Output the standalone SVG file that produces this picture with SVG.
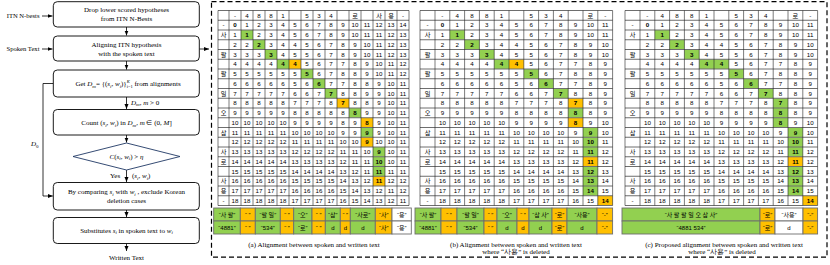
<svg xmlns="http://www.w3.org/2000/svg" width="830" height="265" viewBox="0 0 830 265">
<style>
.fb{fill:#fff;stroke:#000;stroke-width:0.9}
.ft{font-family:"Liberation Serif","Times New Roman",serif;font-size:7px;fill:#000;text-anchor:middle}
.fl{font-family:"Liberation Serif","Times New Roman",serif;font-size:7px;fill:#000}
.fe{font-family:"Liberation Serif","Times New Roman",serif;font-size:6.6px;fill:#000;text-anchor:end}
.fi{font-style:italic}
.cn{stroke:#000;stroke-width:0.8;fill:none}
.ct{font-family:"Liberation Sans","Noto Sans CJK KR",sans-serif;font-size:6.2px;text-anchor:middle;fill:#000}
.b{font-weight:bold}
.G{fill:#92d050}
.O{fill:#ffc000}
.W{fill:#fff}
.hg{stroke:#6e6e6e;stroke-width:1;fill:none}
.vg{stroke:#222;stroke-width:0.6;fill:none}
.bx{stroke:#6e6e6e;stroke-width:0.9}
.bt{font-family:"Liberation Sans","Noto Sans CJK KR",sans-serif;font-size:6px;text-anchor:middle;fill:#000}
</style>
<defs>
<marker id="ah" viewBox="0 0 10 10" refX="10" refY="5" markerWidth="5" markerHeight="5" markerUnits="userSpaceOnUse" orient="auto"><path d="M0,1 L10,5 L0,9 z" fill="#000"/></marker>
</defs>

<!-- Flowchart -->
<g id="connectors">
<path class="cn" d="M42 16H52.5" marker-end="url(#ah)"/>
<path class="cn" d="M42 49H52.5" marker-end="url(#ah)"/>
<path class="cn" d="M126.5 27V35.5" marker-end="url(#ah)"/>
<path class="cn" d="M199.3 49H209" marker-end="url(#ah)"/>
<path class="cn" d="M126.5 61V69.5" marker-end="url(#ah)"/>
<path class="cn" d="M126.5 97V109" marker-end="url(#ah)"/>
<path class="cn" d="M126.5 135V142.5" marker-end="url(#ah)"/>
<path class="cn" d="M126.5 170V182" marker-end="url(#ah)"/>
<path class="cn" d="M126.5 210V217" marker-end="url(#ah)"/>
<path class="cn" d="M126.5 243.5V251" marker-end="url(#ah)"/>
<path class="cn" d="M53.3 83.5H43V196H52.8" marker-end="url(#ah)"/>
<text class="fl" x="131" y="104.5"><tspan class="fi">D</tspan><tspan class="fi" font-size="5" dy="1.5">m</tspan><tspan dy="-1.5">, </tspan><tspan class="fi">m</tspan> &gt; 0</text>
<text class="fl" x="110" y="178">Yes</text>
<text class="fl" x="132" y="178">(<tspan class="fi">s</tspan><tspan class="fi" font-size="5" dy="1.5">i</tspan><tspan dy="-1.5">, </tspan><tspan class="fi">w</tspan><tspan class="fi" font-size="5" dy="1.5">i</tspan><tspan dy="-1.5">)</tspan></text>
<text class="fl" x="31" y="146"><tspan class="fi">D</tspan><tspan font-size="5" dy="1.5">0</tspan></text>
</g>
<g id="in-nbest"><text class="fe" x="39.5" y="18.3">ITN N-bests</text></g>
<g id="in-spoken"><text class="fe" x="39.5" y="51.3">Spoken Text</text></g>
<g id="n1"><rect class="fb" x="53.3" y="1.7" width="146" height="25.3" rx="4"/><text class="ft" x="126.5" y="12.3">Drop lower scored hypotheses</text><text class="ft" x="126.5" y="21">from ITN N-Bests</text></g>
<g id="n2"><rect class="fb" x="53.3" y="36" width="146" height="25" rx="4"/><text class="ft" x="126.5" y="47">Aligning ITN hypothesis</text><text class="ft" x="126.5" y="55.5">with the spoken text</text></g>
<g id="n3"><rect class="fb" x="53.3" y="70" width="146" height="27" rx="4"/><text class="ft" x="128" y="86">Get <tspan class="fi">D</tspan><tspan class="fi" font-size="5" dy="1.5">m</tspan><tspan dy="-1.5">= {(</tspan><tspan class="fi">s</tspan><tspan class="fi" font-size="5" dy="1.5">i</tspan><tspan dy="-1.5">, </tspan><tspan class="fi">w</tspan><tspan class="fi" font-size="5" dy="1.5">i</tspan><tspan dy="-1.5">)}</tspan><tspan font-size="4.5" dy="2">i=1</tspan><tspan class="fi" font-size="4.5" dx="-6" dy="-5.5">K</tspan><tspan dy="3.5" dx="3"> from alignments</tspan></text></g>
<g id="n4"><rect class="fb" x="53.3" y="109.5" width="146" height="25.5" rx="4"/><text class="ft" x="126.5" y="125">Count (<tspan class="fi">s</tspan><tspan class="fi" font-size="5" dy="1.5">i</tspan><tspan dy="-1.5">, </tspan><tspan class="fi">w</tspan><tspan class="fi" font-size="5" dy="1.5">i</tspan><tspan dy="-1.5">) in </tspan><tspan class="fi">D</tspan><tspan class="fi" font-size="5" dy="1.5">m</tspan><tspan dy="-1.5">, </tspan><tspan class="fi">m</tspan> ∈ (0, <tspan class="fi">M</tspan>]</text></g>
<g id="n5"><path d="M126.5 143L180 156.5L126.5 170L73 156.5Z" fill="#fff" stroke="#1f3864" stroke-width="0.9"/><text class="ft" x="126.5" y="158.5"><tspan class="fi">C</tspan>(<tspan class="fi">s</tspan><tspan class="fi" font-size="5" dy="1.5">i</tspan><tspan dy="-1.5">, </tspan><tspan class="fi">w</tspan><tspan class="fi" font-size="5" dy="1.5">i</tspan><tspan dy="-1.5">) &gt; </tspan><tspan class="fi">η</tspan></text></g>
<g id="n6"><rect class="fb" x="53.3" y="182.5" width="146" height="27.5" rx="4"/><text class="ft" x="126.5" y="194">By comparing <tspan class="fi">s</tspan><tspan class="fi" font-size="5" dy="1.5">i</tspan><tspan dy="-1.5"> with </tspan><tspan class="fi">w</tspan><tspan class="fi" font-size="5" dy="1.5">i</tspan><tspan dy="-1.5"> , exclude Korean</tspan></text><text class="ft" x="126.5" y="203">deletion cases</text></g>
<g id="n7"><rect class="fb" x="53.3" y="217.5" width="146" height="26" rx="4"/><text class="ft" x="126.5" y="232.5">Substitutes <tspan class="fi">s</tspan><tspan class="fi" font-size="5" dy="1.5">i</tspan><tspan dy="-1.5"> in spoken text to </tspan><tspan class="fi">w</tspan><tspan class="fi" font-size="5" dy="1.5">i</tspan></text></g>
<g id="out-written"><text class="ft" x="126.5" y="259.5">Written Text</text></g>

<!-- Dashed frame -->
<rect x="211.5" y="1.7" width="615.5" height="255.5" fill="none" stroke="#000" stroke-width="1.2" stroke-dasharray="5 3"/>

<!-- Table A -->
<g id="tableA">
<rect class="G" x="241" y="30" width="12" height="9.75"/>
<rect class="G" x="253" y="39.75" width="12" height="9.75"/>
<rect class="G" x="265" y="49.5" width="12" height="9.75"/>
<rect class="G" x="277" y="59.25" width="12" height="9.75"/>
<rect class="O" x="289" y="59.25" width="12" height="9.75"/>
<rect class="G" x="301" y="69" width="12" height="9.75"/>
<rect class="G" x="313" y="78.75" width="12" height="9.75"/>
<rect class="G" x="325" y="88.5" width="12" height="9.75"/>
<rect class="O" x="337" y="98.25" width="12" height="9.75"/>
<rect class="G" x="349" y="108" width="12" height="9.75"/>
<rect class="O" x="361" y="117.75" width="12" height="9.75"/>
<rect class="G" x="361" y="127.5" width="12" height="9.75"/>
<rect class="O" x="361" y="137.25" width="12" height="9.75"/>
<rect class="G" x="373" y="147" width="12" height="9.75"/>
<rect class="G" x="373" y="156.75" width="12" height="9.75"/>
<rect class="G" x="373" y="166.5" width="12" height="9.75"/>
<rect class="O" x="373" y="176.25" width="12" height="9.75"/>
<path class="hg" d="M218 10.5H409M218 20.25H409M218 30H409M218 39.75H409M218 49.5H409M218 59.25H409M218 69H409M218 78.75H409M218 88.5H409M218 98.25H409M218 108H409M218 117.75H409M218 127.5H409M218 137.25H409M218 147H409M218 156.75H409M218 166.5H409M218 176.25H409M218 186H409M218 195.75H409M218 205.5H409"/>
<path class="vg" d="M218 10.5V205.5M229 10.5V205.5M241 10.5V205.5M253 10.5V205.5M265 10.5V205.5M277 10.5V205.5M289 10.5V205.5M301 10.5V205.5M313 10.5V205.5M325 10.5V205.5M337 10.5V205.5M349 10.5V205.5M361 10.5V205.5M373 10.5V205.5M385 10.5V205.5M397 10.5V205.5M409 10.5V205.5"/>
<text class="ct" y="17.7"><tspan x="235">-</tspan><tspan x="247">4</tspan><tspan x="259">8</tspan><tspan x="271">8</tspan><tspan x="283">1</tspan><tspan x="307">5</tspan><tspan x="319">3</tspan><tspan x="331">4</tspan><tspan x="355">로</tspan><tspan x="379">사</tspan><tspan x="391">용</tspan><tspan x="403">-</tspan></text>
<text class="ct" y="27.45"><tspan x="223.5">-</tspan><tspan x="235" class="b">0</tspan><tspan x="247">1</tspan><tspan x="259">2</tspan><tspan x="271">3</tspan><tspan x="283">4</tspan><tspan x="295">5</tspan><tspan x="307">6</tspan><tspan x="319">7</tspan><tspan x="331">8</tspan><tspan x="343">9</tspan><tspan x="355">10</tspan><tspan x="367">11</tspan><tspan x="379">12</tspan><tspan x="391">13</tspan><tspan x="403">14</tspan></text>
<text class="ct" y="37.2"><tspan x="223.5">사</tspan><tspan x="235">1</tspan><tspan x="247" class="b">1</tspan><tspan x="259">2</tspan><tspan x="271">3</tspan><tspan x="283">4</tspan><tspan x="295">5</tspan><tspan x="307">6</tspan><tspan x="319">7</tspan><tspan x="331">8</tspan><tspan x="343">9</tspan><tspan x="355">10</tspan><tspan x="367">11</tspan><tspan x="379">11</tspan><tspan x="391">12</tspan><tspan x="403">13</tspan></text>
<text class="ct" y="46.95"><tspan x="235">2</tspan><tspan x="247">2</tspan><tspan x="259" class="b">2</tspan><tspan x="271">3</tspan><tspan x="283">4</tspan><tspan x="295">4</tspan><tspan x="307">5</tspan><tspan x="319">6</tspan><tspan x="331">7</tspan><tspan x="343">8</tspan><tspan x="355">9</tspan><tspan x="367">10</tspan><tspan x="379">11</tspan><tspan x="391">12</tspan><tspan x="403">13</tspan></text>
<text class="ct" y="56.7"><tspan x="223.5">팔</tspan><tspan x="235">3</tspan><tspan x="247">3</tspan><tspan x="259">3</tspan><tspan x="271" class="b">3</tspan><tspan x="283">4</tspan><tspan x="295">5</tspan><tspan x="307">5</tspan><tspan x="319">6</tspan><tspan x="331">7</tspan><tspan x="343">8</tspan><tspan x="355">9</tspan><tspan x="367">10</tspan><tspan x="379">11</tspan><tspan x="391">12</tspan><tspan x="403">13</tspan></text>
<text class="ct" y="66.45"><tspan x="235">4</tspan><tspan x="247">4</tspan><tspan x="259">4</tspan><tspan x="271">4</tspan><tspan x="283" class="b">4</tspan><tspan x="295" class="b">4</tspan><tspan x="307">5</tspan><tspan x="319">6</tspan><tspan x="331">7</tspan><tspan x="343">7</tspan><tspan x="355">8</tspan><tspan x="367">9</tspan><tspan x="379">10</tspan><tspan x="391">11</tspan><tspan x="403">12</tspan></text>
<text class="ct" y="76.2"><tspan x="223.5">팔</tspan><tspan x="235">5</tspan><tspan x="247">5</tspan><tspan x="259">5</tspan><tspan x="271">5</tspan><tspan x="283">5</tspan><tspan x="295">5</tspan><tspan x="307" class="b">5</tspan><tspan x="319">6</tspan><tspan x="331">7</tspan><tspan x="343">8</tspan><tspan x="355">8</tspan><tspan x="367">9</tspan><tspan x="379">10</tspan><tspan x="391">11</tspan><tspan x="403">12</tspan></text>
<text class="ct" y="85.95"><tspan x="235">6</tspan><tspan x="247">6</tspan><tspan x="259">6</tspan><tspan x="271">6</tspan><tspan x="283">6</tspan><tspan x="295">5</tspan><tspan x="307">6</tspan><tspan x="319" class="b">6</tspan><tspan x="331">7</tspan><tspan x="343">7</tspan><tspan x="355">8</tspan><tspan x="367">8</tspan><tspan x="379">9</tspan><tspan x="391">10</tspan><tspan x="403">11</tspan></text>
<text class="ct" y="95.7"><tspan x="223.5">일</tspan><tspan x="235">7</tspan><tspan x="247">7</tspan><tspan x="259">7</tspan><tspan x="271">7</tspan><tspan x="283">7</tspan><tspan x="295">6</tspan><tspan x="307">6</tspan><tspan x="319">7</tspan><tspan x="331" class="b">7</tspan><tspan x="343">8</tspan><tspan x="355">8</tspan><tspan x="367">9</tspan><tspan x="379">9</tspan><tspan x="391">10</tspan><tspan x="403">11</tspan></text>
<text class="ct" y="105.45"><tspan x="235">8</tspan><tspan x="247">8</tspan><tspan x="259">8</tspan><tspan x="271">8</tspan><tspan x="283">8</tspan><tspan x="295">7</tspan><tspan x="307">7</tspan><tspan x="319">7</tspan><tspan x="331">8</tspan><tspan x="343" class="b">7</tspan><tspan x="355">8</tspan><tspan x="367">8</tspan><tspan x="379">9</tspan><tspan x="391">10</tspan><tspan x="403">11</tspan></text>
<text class="ct" y="115.2"><tspan x="223.5">오</tspan><tspan x="235">9</tspan><tspan x="247">9</tspan><tspan x="259">9</tspan><tspan x="271">9</tspan><tspan x="283">9</tspan><tspan x="295">8</tspan><tspan x="307">8</tspan><tspan x="319">8</tspan><tspan x="331">8</tspan><tspan x="343">8</tspan><tspan x="355" class="b">8</tspan><tspan x="367">9</tspan><tspan x="379">9</tspan><tspan x="391">10</tspan><tspan x="403">11</tspan></text>
<text class="ct" y="124.95"><tspan x="235">10</tspan><tspan x="247">10</tspan><tspan x="259">10</tspan><tspan x="271">10</tspan><tspan x="283">10</tspan><tspan x="295">9</tspan><tspan x="307">9</tspan><tspan x="319">9</tspan><tspan x="331">9</tspan><tspan x="343">8</tspan><tspan x="355">9</tspan><tspan x="367" class="b">8</tspan><tspan x="379">9</tspan><tspan x="391">10</tspan><tspan x="403">11</tspan></text>
<text class="ct" y="134.7"><tspan x="223.5">삼</tspan><tspan x="235">11</tspan><tspan x="247">11</tspan><tspan x="259">11</tspan><tspan x="271">11</tspan><tspan x="283">11</tspan><tspan x="295">10</tspan><tspan x="307">10</tspan><tspan x="319">10</tspan><tspan x="331">10</tspan><tspan x="343">9</tspan><tspan x="355">9</tspan><tspan x="367" class="b">9</tspan><tspan x="379">9</tspan><tspan x="391">10</tspan><tspan x="403">11</tspan></text>
<text class="ct" y="144.45"><tspan x="235">12</tspan><tspan x="247">12</tspan><tspan x="259">12</tspan><tspan x="271">12</tspan><tspan x="283">12</tspan><tspan x="295">11</tspan><tspan x="307">11</tspan><tspan x="319">11</tspan><tspan x="331">11</tspan><tspan x="343">10</tspan><tspan x="355">10</tspan><tspan x="367" class="b">9</tspan><tspan x="379">10</tspan><tspan x="391">10</tspan><tspan x="403">11</tspan></text>
<text class="ct" y="154.2"><tspan x="223.5">사</tspan><tspan x="235">13</tspan><tspan x="247">13</tspan><tspan x="259">13</tspan><tspan x="271">13</tspan><tspan x="283">13</tspan><tspan x="295">12</tspan><tspan x="307">12</tspan><tspan x="319">12</tspan><tspan x="331">12</tspan><tspan x="343">11</tspan><tspan x="355">11</tspan><tspan x="367">10</tspan><tspan x="379" class="b">9</tspan><tspan x="391">10</tspan><tspan x="403">11</tspan></text>
<text class="ct" y="163.95"><tspan x="223.5">로</tspan><tspan x="235">14</tspan><tspan x="247">14</tspan><tspan x="259">14</tspan><tspan x="271">14</tspan><tspan x="283">14</tspan><tspan x="295">13</tspan><tspan x="307">13</tspan><tspan x="319">13</tspan><tspan x="331">13</tspan><tspan x="343">12</tspan><tspan x="355">11</tspan><tspan x="367">11</tspan><tspan x="379" class="b">10</tspan><tspan x="391">10</tspan><tspan x="403">11</tspan></text>
<text class="ct" y="173.7"><tspan x="235">15</tspan><tspan x="247">15</tspan><tspan x="259">15</tspan><tspan x="271">15</tspan><tspan x="283">15</tspan><tspan x="295">14</tspan><tspan x="307">14</tspan><tspan x="319">14</tspan><tspan x="331">14</tspan><tspan x="343">13</tspan><tspan x="355">12</tspan><tspan x="367">11</tspan><tspan x="379" class="b">11</tspan><tspan x="391">11</tspan><tspan x="403">11</tspan></text>
<text class="ct" y="183.45"><tspan x="223.5">사</tspan><tspan x="235">16</tspan><tspan x="247">16</tspan><tspan x="259">16</tspan><tspan x="271">16</tspan><tspan x="283">16</tspan><tspan x="295">15</tspan><tspan x="307">15</tspan><tspan x="319">15</tspan><tspan x="331">15</tspan><tspan x="343">14</tspan><tspan x="355">13</tspan><tspan x="367">12</tspan><tspan x="379" class="b">11</tspan><tspan x="391">12</tspan><tspan x="403">12</tspan></text>
<text class="ct" y="193.2"><tspan x="223.5">용</tspan><tspan x="235">17</tspan><tspan x="247">17</tspan><tspan x="259">17</tspan><tspan x="271">17</tspan><tspan x="283">17</tspan><tspan x="295">16</tspan><tspan x="307">16</tspan><tspan x="319">16</tspan><tspan x="331">16</tspan><tspan x="343">15</tspan><tspan x="355">14</tspan><tspan x="367">13</tspan><tspan x="379">12</tspan><tspan x="391">11</tspan><tspan x="403">12</tspan></text>
<text class="ct" y="202.95"><tspan x="223.5">-</tspan><tspan x="235">18</tspan><tspan x="247">18</tspan><tspan x="259">18</tspan><tspan x="271">18</tspan><tspan x="283">18</tspan><tspan x="295">17</tspan><tspan x="307">17</tspan><tspan x="319">17</tspan><tspan x="331">17</tspan><tspan x="343">16</tspan><tspan x="355">15</tspan><tspan x="367">14</tspan><tspan x="379">13</tspan><tspan x="391">12</tspan><tspan x="403">11</tspan></text>
</g>
<g id="alignA">
<rect class="G bx" x="213.7" y="208" width="26.6" height="13"/><rect class="O bx" x="240.3" y="208" width="15" height="13"/><rect class="G bx" x="255.3" y="208" width="25" height="13"/><rect class="O bx" x="280.3" y="208" width="13.4" height="13"/><rect class="G bx" x="293.7" y="208" width="18.3" height="13"/><rect class="O bx" x="312" y="208" width="13.3" height="13"/><rect class="G bx" x="325.3" y="208" width="15" height="13"/><rect class="O bx" x="340.3" y="208" width="10" height="13"/><rect class="G bx" x="350.3" y="208" width="25" height="13"/><rect class="O bx" x="375.3" y="208" width="16.7" height="13"/><rect class="W bx" x="392" y="208" width="19.3" height="13"/>
<rect class="G bx" x="213.7" y="221" width="26.6" height="13"/><rect class="O bx" x="240.3" y="221" width="15" height="13"/><rect class="G bx" x="255.3" y="221" width="25" height="13"/><rect class="O bx" x="280.3" y="221" width="13.4" height="13"/><rect class="G bx" x="293.7" y="221" width="18.3" height="13"/><rect class="O bx" x="312" y="221" width="13.3" height="13"/><rect class="G bx" x="325.3" y="221" width="15" height="13"/><rect class="O bx" x="340.3" y="221" width="10" height="13"/><rect class="G bx" x="350.3" y="221" width="25" height="13"/><rect class="O bx" x="375.3" y="221" width="16.7" height="13"/><rect class="W bx" x="392" y="221" width="19.3" height="13"/>
<text class="bt" y="216.8"><tspan x="227">“사 팔”</tspan><tspan x="247.8">“ ”</tspan><tspan x="267.8">“팔 일”</tspan><tspan x="287">“ ”</tspan><tspan x="302.8">“오”</tspan><tspan x="318.7">“ ”</tspan><tspan x="332.8">“삼”</tspan><tspan x="345.3">“ ”</tspan><tspan x="362.8">“사로”</tspan><tspan x="383.7">“사”</tspan><tspan x="401.7">“용”</tspan></text>
<text class="bt" y="229.8"><tspan x="227">“4881”</tspan><tspan x="247.8">“ ”</tspan><tspan x="267.8">“534”</tspan><tspan x="287">“ ”</tspan><tspan x="302.8">“로”</tspan><tspan x="318.7">“ ”</tspan><tspan x="332.8">d</tspan><tspan x="345.3">d</tspan><tspan x="362.8">d</tspan><tspan x="383.7">“사”</tspan><tspan x="401.7">“용”</tspan></text>
<text class="ft" x="314" y="247">(a) Alignment between spoken and written text</text>
</g>

<!-- Table B -->
<g id="tableB">
<rect class="G" x="449.8" y="30" width="14.8" height="9.75"/>
<rect class="G" x="464.6" y="39.75" width="14.8" height="9.75"/>
<rect class="G" x="479.4" y="49.5" width="14.8" height="9.75"/>
<rect class="G" x="494.2" y="59.25" width="14.8" height="9.75"/>
<rect class="O" x="509" y="59.25" width="14.8" height="9.75"/>
<rect class="G" x="523.8" y="69" width="14.8" height="9.75"/>
<rect class="G" x="538.6" y="78.75" width="14.8" height="9.75"/>
<rect class="G" x="553.4" y="88.5" width="14.8" height="9.75"/>
<rect class="O" x="568.2" y="98.25" width="14.8" height="9.75"/>
<rect class="G" x="568.2" y="108" width="14.8" height="9.75"/>
<rect class="O" x="568.2" y="117.75" width="14.8" height="9.75"/>
<rect class="G" x="583" y="127.5" width="14.8" height="9.75"/>
<rect class="G" x="583" y="137.25" width="14.8" height="9.75"/>
<rect class="G" x="583" y="147" width="14.8" height="9.75"/>
<rect class="O" x="583" y="156.75" width="14.8" height="9.75"/>
<rect class="G" x="583" y="166.5" width="14.8" height="9.75"/>
<rect class="G" x="583" y="176.25" width="14.8" height="9.75"/>
<rect class="G" x="583" y="186" width="14.8" height="9.75"/>
<rect class="O" x="597.8" y="195.75" width="14.8" height="9.75"/>
<g id="gridB">
<path class="hg" d="M420 10.5H612.6M420 20.25H612.6M420 30H612.6M420 39.75H612.6M420 49.5H612.6M420 59.25H612.6M420 69H612.6M420 78.75H612.6M420 88.5H612.6M420 98.25H612.6M420 108H612.6M420 117.75H612.6M420 127.5H612.6M420 137.25H612.6M420 147H612.6M420 156.75H612.6M420 166.5H612.6M420 176.25H612.6M420 186H612.6M420 195.75H612.6M420 205.5H612.6"/>
<path class="vg" d="M420 10.5V205.5M435 10.5V205.5M449.8 10.5V205.5M464.6 10.5V205.5M479.4 10.5V205.5M494.2 10.5V205.5M509 10.5V205.5M523.8 10.5V205.5M538.6 10.5V205.5M553.4 10.5V205.5M568.2 10.5V205.5M583 10.5V205.5M597.8 10.5V205.5M612.6 10.5V205.5"/>
<text class="ct" y="17.7"><tspan x="442.4">-</tspan><tspan x="457.2">4</tspan><tspan x="472">8</tspan><tspan x="486.8">8</tspan><tspan x="501.6">1</tspan><tspan x="531.2">5</tspan><tspan x="546">3</tspan><tspan x="560.8">4</tspan><tspan x="590.4">로</tspan><tspan x="605.2">-</tspan></text>
<text class="ct" y="27.45"><tspan x="427.5">-</tspan><tspan x="442.4" class="b">0</tspan><tspan x="457.2">1</tspan><tspan x="472">2</tspan><tspan x="486.8">3</tspan><tspan x="501.6">4</tspan><tspan x="516.4">5</tspan><tspan x="531.2">6</tspan><tspan x="546">7</tspan><tspan x="560.8">8</tspan><tspan x="575.6">9</tspan><tspan x="590.4">10</tspan><tspan x="605.2">11</tspan></text>
<text class="ct" y="37.2"><tspan x="427.5">사</tspan><tspan x="442.4">1</tspan><tspan x="457.2" class="b">1</tspan><tspan x="472">2</tspan><tspan x="486.8">3</tspan><tspan x="501.6">4</tspan><tspan x="516.4">5</tspan><tspan x="531.2">6</tspan><tspan x="546">7</tspan><tspan x="560.8">8</tspan><tspan x="575.6">9</tspan><tspan x="590.4">10</tspan><tspan x="605.2">11</tspan></text>
<text class="ct" y="46.95"><tspan x="442.4">2</tspan><tspan x="457.2">2</tspan><tspan x="472" class="b">2</tspan><tspan x="486.8">3</tspan><tspan x="501.6">4</tspan><tspan x="516.4">4</tspan><tspan x="531.2">5</tspan><tspan x="546">6</tspan><tspan x="560.8">7</tspan><tspan x="575.6">8</tspan><tspan x="590.4">9</tspan><tspan x="605.2">10</tspan></text>
<text class="ct" y="56.7"><tspan x="427.5">팔</tspan><tspan x="442.4">3</tspan><tspan x="457.2">3</tspan><tspan x="472">3</tspan><tspan x="486.8" class="b">3</tspan><tspan x="501.6">4</tspan><tspan x="516.4">5</tspan><tspan x="531.2">5</tspan><tspan x="546">6</tspan><tspan x="560.8">7</tspan><tspan x="575.6">8</tspan><tspan x="590.4">9</tspan><tspan x="605.2">10</tspan></text>
<text class="ct" y="66.45"><tspan x="442.4">4</tspan><tspan x="457.2">4</tspan><tspan x="472">4</tspan><tspan x="486.8">4</tspan><tspan x="501.6" class="b">4</tspan><tspan x="516.4" class="b">4</tspan><tspan x="531.2">5</tspan><tspan x="546">6</tspan><tspan x="560.8">7</tspan><tspan x="575.6">7</tspan><tspan x="590.4">8</tspan><tspan x="605.2">9</tspan></text>
<text class="ct" y="76.2"><tspan x="427.5">팔</tspan><tspan x="442.4">5</tspan><tspan x="457.2">5</tspan><tspan x="472">5</tspan><tspan x="486.8">5</tspan><tspan x="501.6">5</tspan><tspan x="516.4">5</tspan><tspan x="531.2" class="b">5</tspan><tspan x="546">6</tspan><tspan x="560.8">7</tspan><tspan x="575.6">8</tspan><tspan x="590.4">8</tspan><tspan x="605.2">9</tspan></text>
<text class="ct" y="85.95"><tspan x="442.4">6</tspan><tspan x="457.2">6</tspan><tspan x="472">6</tspan><tspan x="486.8">6</tspan><tspan x="501.6">6</tspan><tspan x="516.4">5</tspan><tspan x="531.2">6</tspan><tspan x="546" class="b">6</tspan><tspan x="560.8">7</tspan><tspan x="575.6">7</tspan><tspan x="590.4">8</tspan><tspan x="605.2">9</tspan></text>
<text class="ct" y="95.7"><tspan x="427.5">일</tspan><tspan x="442.4">7</tspan><tspan x="457.2">7</tspan><tspan x="472">7</tspan><tspan x="486.8">7</tspan><tspan x="501.6">7</tspan><tspan x="516.4">6</tspan><tspan x="531.2">6</tspan><tspan x="546">7</tspan><tspan x="560.8" class="b">7</tspan><tspan x="575.6">8</tspan><tspan x="590.4">8</tspan><tspan x="605.2">9</tspan></text>
<text class="ct" y="105.45"><tspan x="442.4">8</tspan><tspan x="457.2">8</tspan><tspan x="472">8</tspan><tspan x="486.8">8</tspan><tspan x="501.6">8</tspan><tspan x="516.4">7</tspan><tspan x="531.2">7</tspan><tspan x="546">7</tspan><tspan x="560.8">8</tspan><tspan x="575.6" class="b">7</tspan><tspan x="590.4">8</tspan><tspan x="605.2">9</tspan></text>
<text class="ct" y="115.2"><tspan x="427.5">오</tspan><tspan x="442.4">9</tspan><tspan x="457.2">9</tspan><tspan x="472">9</tspan><tspan x="486.8">9</tspan><tspan x="501.6">9</tspan><tspan x="516.4">8</tspan><tspan x="531.2">8</tspan><tspan x="546">8</tspan><tspan x="560.8">8</tspan><tspan x="575.6" class="b">8</tspan><tspan x="590.4">8</tspan><tspan x="605.2">9</tspan></text>
<text class="ct" y="124.95"><tspan x="442.4">10</tspan><tspan x="457.2">10</tspan><tspan x="472">10</tspan><tspan x="486.8">10</tspan><tspan x="501.6">10</tspan><tspan x="516.4">9</tspan><tspan x="531.2">9</tspan><tspan x="546">9</tspan><tspan x="560.8">9</tspan><tspan x="575.6" class="b">8</tspan><tspan x="590.4">9</tspan><tspan x="605.2">10</tspan></text>
<text class="ct" y="134.7"><tspan x="427.5">삼</tspan><tspan x="442.4">11</tspan><tspan x="457.2">11</tspan><tspan x="472">11</tspan><tspan x="486.8">11</tspan><tspan x="501.6">11</tspan><tspan x="516.4">10</tspan><tspan x="531.2">10</tspan><tspan x="546">10</tspan><tspan x="560.8">10</tspan><tspan x="575.6">9</tspan><tspan x="590.4" class="b">9</tspan><tspan x="605.2">10</tspan></text>
<text class="ct" y="144.45"><tspan x="442.4">12</tspan><tspan x="457.2">12</tspan><tspan x="472">12</tspan><tspan x="486.8">12</tspan><tspan x="501.6">12</tspan><tspan x="516.4">11</tspan><tspan x="531.2">11</tspan><tspan x="546">11</tspan><tspan x="560.8">11</tspan><tspan x="575.6">10</tspan><tspan x="590.4" class="b">10</tspan><tspan x="605.2">11</tspan></text>
<text class="ct" y="154.2"><tspan x="427.5">사</tspan><tspan x="442.4">13</tspan><tspan x="457.2">13</tspan><tspan x="472">13</tspan><tspan x="486.8">13</tspan><tspan x="501.6">13</tspan><tspan x="516.4">12</tspan><tspan x="531.2">12</tspan><tspan x="546">12</tspan><tspan x="560.8">12</tspan><tspan x="575.6">11</tspan><tspan x="590.4" class="b">11</tspan><tspan x="605.2">12</tspan></text>
<text class="ct" y="163.95"><tspan x="427.5">로</tspan><tspan x="442.4">14</tspan><tspan x="457.2">14</tspan><tspan x="472">14</tspan><tspan x="486.8">14</tspan><tspan x="501.6">14</tspan><tspan x="516.4">13</tspan><tspan x="531.2">13</tspan><tspan x="546">13</tspan><tspan x="560.8">13</tspan><tspan x="575.6">12</tspan><tspan x="590.4" class="b">11</tspan><tspan x="605.2">12</tspan></text>
<text class="ct" y="173.7"><tspan x="442.4">15</tspan><tspan x="457.2">15</tspan><tspan x="472">15</tspan><tspan x="486.8">15</tspan><tspan x="501.6">15</tspan><tspan x="516.4">14</tspan><tspan x="531.2">14</tspan><tspan x="546">14</tspan><tspan x="560.8">14</tspan><tspan x="575.6">13</tspan><tspan x="590.4" class="b">12</tspan><tspan x="605.2">13</tspan></text>
<text class="ct" y="183.45"><tspan x="427.5">사</tspan><tspan x="442.4">16</tspan><tspan x="457.2">16</tspan><tspan x="472">16</tspan><tspan x="486.8">16</tspan><tspan x="501.6">16</tspan><tspan x="516.4">15</tspan><tspan x="531.2">15</tspan><tspan x="546">15</tspan><tspan x="560.8">15</tspan><tspan x="575.6">14</tspan><tspan x="590.4" class="b">13</tspan><tspan x="605.2">14</tspan></text>
<text class="ct" y="193.2"><tspan x="427.5">용</tspan><tspan x="442.4">17</tspan><tspan x="457.2">17</tspan><tspan x="472">17</tspan><tspan x="486.8">17</tspan><tspan x="501.6">17</tspan><tspan x="516.4">16</tspan><tspan x="531.2">16</tspan><tspan x="546">16</tspan><tspan x="560.8">16</tspan><tspan x="575.6">15</tspan><tspan x="590.4" class="b">14</tspan><tspan x="605.2">15</tspan></text>
<text class="ct" y="202.95"><tspan x="427.5">-</tspan><tspan x="442.4">18</tspan><tspan x="457.2">18</tspan><tspan x="472">18</tspan><tspan x="486.8">18</tspan><tspan x="501.6">18</tspan><tspan x="516.4">17</tspan><tspan x="531.2">17</tspan><tspan x="546">17</tspan><tspan x="560.8">17</tspan><tspan x="575.6">16</tspan><tspan x="590.4">15</tspan><tspan x="605.2" class="b">14</tspan></text>
</g>
</g>
<g id="alignB">
<rect class="G bx" x="415" y="208" width="26" height="13"/><rect class="O bx" x="441" y="208" width="16" height="13"/><rect class="G bx" x="457" y="208" width="27" height="13"/><rect class="O bx" x="484" y="208" width="13" height="13"/><rect class="G bx" x="497" y="208" width="20" height="13"/><rect class="O bx" x="517" y="208" width="12" height="13"/><rect class="G bx" x="529" y="208" width="23" height="13"/><rect class="O bx" x="552" y="208" width="15" height="13"/><rect class="G bx" x="567" y="208" width="30" height="13"/><rect class="O bx" x="597" y="208" width="15.6" height="13"/>
<rect class="G bx" x="415" y="221" width="26" height="13"/><rect class="O bx" x="441" y="221" width="16" height="13"/><rect class="G bx" x="457" y="221" width="27" height="13"/><rect class="O bx" x="484" y="221" width="13" height="13"/><rect class="G bx" x="497" y="221" width="20" height="13"/><rect class="O bx" x="517" y="221" width="12" height="13"/><rect class="G bx" x="529" y="221" width="23" height="13"/><rect class="O bx" x="552" y="221" width="15" height="13"/><rect class="G bx" x="567" y="221" width="30" height="13"/><rect class="O bx" x="597" y="221" width="15.6" height="13"/>
<text class="bt" y="216.8"><tspan x="428">“사 팔”</tspan><tspan x="449">“ ”</tspan><tspan x="470.5">“팔 일”</tspan><tspan x="490.5">“ ”</tspan><tspan x="507">“오”</tspan><tspan x="523">“ ”</tspan><tspan x="540.5">“삼 사”</tspan><tspan x="559.5">“로”</tspan><tspan x="582">“사용”</tspan><tspan x="604.8">“-”</tspan></text>
<text class="bt" y="229.8"><tspan x="428">“4881”</tspan><tspan x="449">“ ”</tspan><tspan x="470.5">“534”</tspan><tspan x="490.5">“ ”</tspan><tspan x="507">d</tspan><tspan x="523">d</tspan><tspan x="540.5">d</tspan><tspan x="559.5">“로”</tspan><tspan x="582">d</tspan><tspan x="604.8">“-”</tspan></text>
<text class="ft" x="516" y="246.5">(b) Alignment between spoken and written text</text>
<text class="ft" x="516" y="254">where “사용” is deleted</text>
</g>

<!-- Table C -->
<g id="tableC">
<rect class="G" x="654.8" y="30" width="14.8" height="9.75"/>
<rect class="G" x="669.6" y="39.75" width="14.8" height="9.75"/>
<rect class="G" x="684.4" y="49.5" width="14.8" height="9.75"/>
<rect class="G" x="699.2" y="59.25" width="14.8" height="9.75"/>
<rect class="G" x="714" y="59.25" width="14.8" height="9.75"/>
<rect class="G" x="728.8" y="69" width="14.8" height="9.75"/>
<rect class="G" x="743.6" y="78.75" width="14.8" height="9.75"/>
<rect class="G" x="758.4" y="88.5" width="14.8" height="9.75"/>
<rect class="G" x="773.2" y="98.25" width="14.8" height="9.75"/>
<rect class="G" x="773.2" y="108" width="14.8" height="9.75"/>
<rect class="G" x="773.2" y="117.75" width="14.8" height="9.75"/>
<rect class="G" x="788" y="127.5" width="14.8" height="9.75"/>
<rect class="G" x="788" y="137.25" width="14.8" height="9.75"/>
<rect class="G" x="788" y="147" width="14.8" height="9.75"/>
<rect class="O" x="788" y="156.75" width="14.8" height="9.75"/>
<rect class="G" x="788" y="166.5" width="14.8" height="9.75"/>
<rect class="G" x="788" y="176.25" width="14.8" height="9.75"/>
<rect class="G" x="788" y="186" width="14.8" height="9.75"/>
<rect class="O" x="802.8" y="195.75" width="14.8" height="9.75"/>
<g transform="translate(205 0)">
<path class="hg" d="M420 10.5H612.6M420 20.25H612.6M420 30H612.6M420 39.75H612.6M420 49.5H612.6M420 59.25H612.6M420 69H612.6M420 78.75H612.6M420 88.5H612.6M420 98.25H612.6M420 108H612.6M420 117.75H612.6M420 127.5H612.6M420 137.25H612.6M420 147H612.6M420 156.75H612.6M420 166.5H612.6M420 176.25H612.6M420 186H612.6M420 195.75H612.6M420 205.5H612.6"/>
<path class="vg" d="M420 10.5V205.5M435 10.5V205.5M449.8 10.5V205.5M464.6 10.5V205.5M479.4 10.5V205.5M494.2 10.5V205.5M509 10.5V205.5M523.8 10.5V205.5M538.6 10.5V205.5M553.4 10.5V205.5M568.2 10.5V205.5M583 10.5V205.5M597.8 10.5V205.5M612.6 10.5V205.5"/>
<text class="ct" y="17.7"><tspan x="442.4">-</tspan><tspan x="457.2">4</tspan><tspan x="472">8</tspan><tspan x="486.8">8</tspan><tspan x="501.6">1</tspan><tspan x="531.2">5</tspan><tspan x="546">3</tspan><tspan x="560.8">4</tspan><tspan x="590.4">로</tspan><tspan x="605.2">-</tspan></text>
<text class="ct" y="27.45"><tspan x="427.5">-</tspan><tspan x="442.4" class="b">0</tspan><tspan x="457.2">1</tspan><tspan x="472">2</tspan><tspan x="486.8">3</tspan><tspan x="501.6">4</tspan><tspan x="516.4">5</tspan><tspan x="531.2">6</tspan><tspan x="546">7</tspan><tspan x="560.8">8</tspan><tspan x="575.6">9</tspan><tspan x="590.4">10</tspan><tspan x="605.2">11</tspan></text>
<text class="ct" y="37.2"><tspan x="427.5">사</tspan><tspan x="442.4">1</tspan><tspan x="457.2" class="b">1</tspan><tspan x="472">2</tspan><tspan x="486.8">3</tspan><tspan x="501.6">4</tspan><tspan x="516.4">5</tspan><tspan x="531.2">6</tspan><tspan x="546">7</tspan><tspan x="560.8">8</tspan><tspan x="575.6">9</tspan><tspan x="590.4">10</tspan><tspan x="605.2">11</tspan></text>
<text class="ct" y="46.95"><tspan x="442.4">2</tspan><tspan x="457.2">2</tspan><tspan x="472" class="b">2</tspan><tspan x="486.8">3</tspan><tspan x="501.6">4</tspan><tspan x="516.4">4</tspan><tspan x="531.2">5</tspan><tspan x="546">6</tspan><tspan x="560.8">7</tspan><tspan x="575.6">8</tspan><tspan x="590.4">9</tspan><tspan x="605.2">10</tspan></text>
<text class="ct" y="56.7"><tspan x="427.5">팔</tspan><tspan x="442.4">3</tspan><tspan x="457.2">3</tspan><tspan x="472">3</tspan><tspan x="486.8" class="b">3</tspan><tspan x="501.6">4</tspan><tspan x="516.4">5</tspan><tspan x="531.2">5</tspan><tspan x="546">6</tspan><tspan x="560.8">7</tspan><tspan x="575.6">8</tspan><tspan x="590.4">9</tspan><tspan x="605.2">10</tspan></text>
<text class="ct" y="66.45"><tspan x="442.4">4</tspan><tspan x="457.2">4</tspan><tspan x="472">4</tspan><tspan x="486.8">4</tspan><tspan x="501.6" class="b">4</tspan><tspan x="516.4" class="b">4</tspan><tspan x="531.2">5</tspan><tspan x="546">6</tspan><tspan x="560.8">7</tspan><tspan x="575.6">7</tspan><tspan x="590.4">8</tspan><tspan x="605.2">9</tspan></text>
<text class="ct" y="76.2"><tspan x="427.5">팔</tspan><tspan x="442.4">5</tspan><tspan x="457.2">5</tspan><tspan x="472">5</tspan><tspan x="486.8">5</tspan><tspan x="501.6">5</tspan><tspan x="516.4">5</tspan><tspan x="531.2" class="b">5</tspan><tspan x="546">6</tspan><tspan x="560.8">7</tspan><tspan x="575.6">8</tspan><tspan x="590.4">8</tspan><tspan x="605.2">9</tspan></text>
<text class="ct" y="85.95"><tspan x="442.4">6</tspan><tspan x="457.2">6</tspan><tspan x="472">6</tspan><tspan x="486.8">6</tspan><tspan x="501.6">6</tspan><tspan x="516.4">5</tspan><tspan x="531.2">6</tspan><tspan x="546" class="b">6</tspan><tspan x="560.8">7</tspan><tspan x="575.6">7</tspan><tspan x="590.4">8</tspan><tspan x="605.2">9</tspan></text>
<text class="ct" y="95.7"><tspan x="427.5">일</tspan><tspan x="442.4">7</tspan><tspan x="457.2">7</tspan><tspan x="472">7</tspan><tspan x="486.8">7</tspan><tspan x="501.6">7</tspan><tspan x="516.4">6</tspan><tspan x="531.2">6</tspan><tspan x="546">7</tspan><tspan x="560.8" class="b">7</tspan><tspan x="575.6">8</tspan><tspan x="590.4">8</tspan><tspan x="605.2">9</tspan></text>
<text class="ct" y="105.45"><tspan x="442.4">8</tspan><tspan x="457.2">8</tspan><tspan x="472">8</tspan><tspan x="486.8">8</tspan><tspan x="501.6">8</tspan><tspan x="516.4">7</tspan><tspan x="531.2">7</tspan><tspan x="546">7</tspan><tspan x="560.8">8</tspan><tspan x="575.6" class="b">7</tspan><tspan x="590.4">8</tspan><tspan x="605.2">9</tspan></text>
<text class="ct" y="115.2"><tspan x="427.5">오</tspan><tspan x="442.4">9</tspan><tspan x="457.2">9</tspan><tspan x="472">9</tspan><tspan x="486.8">9</tspan><tspan x="501.6">9</tspan><tspan x="516.4">8</tspan><tspan x="531.2">8</tspan><tspan x="546">8</tspan><tspan x="560.8">8</tspan><tspan x="575.6" class="b">8</tspan><tspan x="590.4">8</tspan><tspan x="605.2">9</tspan></text>
<text class="ct" y="124.95"><tspan x="442.4">10</tspan><tspan x="457.2">10</tspan><tspan x="472">10</tspan><tspan x="486.8">10</tspan><tspan x="501.6">10</tspan><tspan x="516.4">9</tspan><tspan x="531.2">9</tspan><tspan x="546">9</tspan><tspan x="560.8">9</tspan><tspan x="575.6" class="b">8</tspan><tspan x="590.4">9</tspan><tspan x="605.2">10</tspan></text>
<text class="ct" y="134.7"><tspan x="427.5">삼</tspan><tspan x="442.4">11</tspan><tspan x="457.2">11</tspan><tspan x="472">11</tspan><tspan x="486.8">11</tspan><tspan x="501.6">11</tspan><tspan x="516.4">10</tspan><tspan x="531.2">10</tspan><tspan x="546">10</tspan><tspan x="560.8">10</tspan><tspan x="575.6">9</tspan><tspan x="590.4" class="b">9</tspan><tspan x="605.2">10</tspan></text>
<text class="ct" y="144.45"><tspan x="442.4">12</tspan><tspan x="457.2">12</tspan><tspan x="472">12</tspan><tspan x="486.8">12</tspan><tspan x="501.6">12</tspan><tspan x="516.4">11</tspan><tspan x="531.2">11</tspan><tspan x="546">11</tspan><tspan x="560.8">11</tspan><tspan x="575.6">10</tspan><tspan x="590.4" class="b">10</tspan><tspan x="605.2">11</tspan></text>
<text class="ct" y="154.2"><tspan x="427.5">사</tspan><tspan x="442.4">13</tspan><tspan x="457.2">13</tspan><tspan x="472">13</tspan><tspan x="486.8">13</tspan><tspan x="501.6">13</tspan><tspan x="516.4">12</tspan><tspan x="531.2">12</tspan><tspan x="546">12</tspan><tspan x="560.8">12</tspan><tspan x="575.6">11</tspan><tspan x="590.4" class="b">11</tspan><tspan x="605.2">12</tspan></text>
<text class="ct" y="163.95"><tspan x="427.5">로</tspan><tspan x="442.4">14</tspan><tspan x="457.2">14</tspan><tspan x="472">14</tspan><tspan x="486.8">14</tspan><tspan x="501.6">14</tspan><tspan x="516.4">13</tspan><tspan x="531.2">13</tspan><tspan x="546">13</tspan><tspan x="560.8">13</tspan><tspan x="575.6">12</tspan><tspan x="590.4" class="b">11</tspan><tspan x="605.2">12</tspan></text>
<text class="ct" y="173.7"><tspan x="442.4">15</tspan><tspan x="457.2">15</tspan><tspan x="472">15</tspan><tspan x="486.8">15</tspan><tspan x="501.6">15</tspan><tspan x="516.4">14</tspan><tspan x="531.2">14</tspan><tspan x="546">14</tspan><tspan x="560.8">14</tspan><tspan x="575.6">13</tspan><tspan x="590.4" class="b">12</tspan><tspan x="605.2">13</tspan></text>
<text class="ct" y="183.45"><tspan x="427.5">사</tspan><tspan x="442.4">16</tspan><tspan x="457.2">16</tspan><tspan x="472">16</tspan><tspan x="486.8">16</tspan><tspan x="501.6">16</tspan><tspan x="516.4">15</tspan><tspan x="531.2">15</tspan><tspan x="546">15</tspan><tspan x="560.8">15</tspan><tspan x="575.6">14</tspan><tspan x="590.4" class="b">13</tspan><tspan x="605.2">14</tspan></text>
<text class="ct" y="193.2"><tspan x="427.5">용</tspan><tspan x="442.4">17</tspan><tspan x="457.2">17</tspan><tspan x="472">17</tspan><tspan x="486.8">17</tspan><tspan x="501.6">17</tspan><tspan x="516.4">16</tspan><tspan x="531.2">16</tspan><tspan x="546">16</tspan><tspan x="560.8">16</tspan><tspan x="575.6">15</tspan><tspan x="590.4" class="b">14</tspan><tspan x="605.2">15</tspan></text>
<text class="ct" y="202.95"><tspan x="427.5">-</tspan><tspan x="442.4">18</tspan><tspan x="457.2">18</tspan><tspan x="472">18</tspan><tspan x="486.8">18</tspan><tspan x="501.6">18</tspan><tspan x="516.4">17</tspan><tspan x="531.2">17</tspan><tspan x="546">17</tspan><tspan x="560.8">17</tspan><tspan x="575.6">16</tspan><tspan x="590.4">15</tspan><tspan x="605.2" class="b">14</tspan></text>
</g>
</g>
<g id="alignC">
<rect class="G bx" x="622" y="208" width="138" height="13"/><rect class="O bx" x="760" y="208" width="15" height="13"/><rect class="W bx" x="775" y="208" width="28" height="13"/><rect class="O bx" x="803" y="208" width="14.6" height="13"/>
<rect class="G bx" x="622" y="221" width="138" height="13"/><rect class="O bx" x="760" y="221" width="15" height="13"/><rect class="W bx" x="775" y="221" width="28" height="13"/><rect class="O bx" x="803" y="221" width="14.6" height="13"/>
<text class="bt" y="216.8"><tspan x="691">“사 팔 팔 일 오 삼 사”</tspan><tspan x="767.5">“로”</tspan><tspan x="789">“사용”</tspan><tspan x="810.3">“-”</tspan></text>
<text class="bt" y="229.8"><tspan x="691">“4881 534”</tspan><tspan x="767.5">“로”</tspan><tspan x="789">d</tspan><tspan x="810.3">“-”</tspan></text>
<text class="ft" x="724" y="246.5">(c) Proposed alignment between spoken and written text</text>
<text class="ft" x="722" y="254">where “사용” is deleted</text>
</g>
</svg>
